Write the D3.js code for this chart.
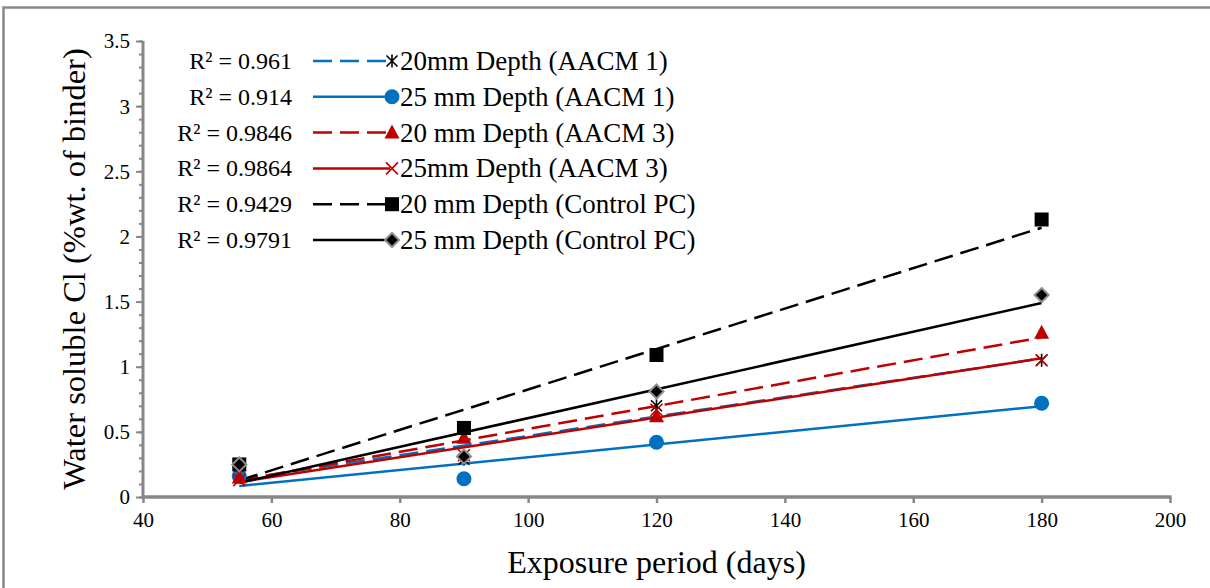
<!DOCTYPE html>
<html>
<head>
<meta charset="utf-8">
<script src="https://cdn.jsdelivr.net/npm/d3@7"></script>
<style>
  body { margin: 0; background: #fff; }
  svg { display: block; }
</style>
</head>
<body>
<svg id="chart" width="1210" height="588"></svg>
<script>
// Exposure period (days) at which samples were tested
const days = [55, 90, 120, 180];

// Water soluble chloride (% wt. of binder) per depth / mix
const aacm1Depth20 = [0.17, 0.29, 0.70, 1.05];
const aacm1Depth25 = [0.16, 0.14, 0.42, 0.72];
const aacm3Depth20 = [0.15, 0.455, 0.62, 1.26];
const aacm3Depth25 = [0.13, 0.32, 0.67, 1.05];
const pcDepth20 = [0.25, 0.53, 1.09, 2.13];
const pcDepth25 = [0.25, 0.31, 0.81, 1.55];

const seriesNames = [
  "20mm Depth (AACM 1)",
  "25 mm Depth (AACM 1)",
  "20 mm Depth (AACM 3)",
  "25mm Depth (AACM 3)",
  "20 mm Depth (Control PC)",
  "25 mm Depth (Control PC)"
];
const r2Labels = ["R² = 0.961", "R² = 0.914", "R² = 0.9846", "R² = 0.9864", "R² = 0.9429", "R² = 0.9791"];

const xTicks = [40, 60, 80, 100, 120, 140, 160, 180, 200];
const yTicks = [0, 0.5, 1, 1.5, 2, 2.5, 3, 3.5];

const seriesValues = [aacm1Depth20, aacm1Depth25, aacm3Depth20, aacm3Depth25, pcDepth20, pcDepth25];

// Line and marker styling per series
const blue = "#0070c0", red = "#c00000", black = "#000000";
const styles = [
  { color: blue, dash: "19,8", marker: "star" },
  { color: blue, dash: null, marker: "circle" },
  { color: red, dash: "19,8", marker: "triangle" },
  { color: red, dash: null, marker: "cross" },
  { color: black, dash: "19,8", marker: "square" },
  { color: black, dash: null, marker: "diamond" }
];

const FONT = '"Liberation Serif", "Times New Roman", Times, serif';

const svg = d3.select("#chart").style("font-family", FONT);

function styleText(sel, size) {
  return sel.style("font-family", FONT).style("font-size", size + "px").style("fill", "#000");
}

// outer chart frame
svg.append("rect")
  .attr("x", 3.5).attr("y", 7.5)
  .attr("width", 1300).attr("height", 700)
  .attr("fill", "none").attr("stroke", "#888").attr("stroke-width", 2.5);

const x = d3.scaleLinear().domain([40, 200]).range([143, 1170]);
const y = d3.scaleLinear().domain([0, 3.5]).range([497, 41]);

const axisColor = "#878787";

// y axis: minor ticks every 0.1, major every 0.5
const yMinor = d3.range(0, 36).map(i => i / 10);
const yAxisMinor = d3.axisLeft(y).tickValues(yMinor).tickSize(4).tickFormat("");
const yAxisMajor = d3.axisLeft(y).tickValues(yTicks).tickSize(7).tickPadding(6)
  .tickFormat(d => d3.format("")(d));

const gyMinor = svg.append("g").attr("transform", `translate(${x(40)},0)`).call(yAxisMinor);
const gy = svg.append("g").attr("transform", `translate(${x(40)},0)`).call(yAxisMajor);
[gyMinor, gy].forEach(g => {
  g.attr("font-family", null);
  g.select(".domain").remove();
  g.selectAll("line").attr("stroke", axisColor).attr("stroke-width", 2);
});
styleText(gy.selectAll("text"), 21).attr("dy", "0.33em");

svg.append("line")
  .attr("x1", x(40)).attr("x2", x(40))
  .attr("y1", y(0) + 1.5).attr("y2", y(3.5))
  .attr("stroke", axisColor).attr("stroke-width", 3);

// x axis
const xAxis = d3.axisBottom(x).tickValues(xTicks).tickSize(6).tickPadding(9);
const gx = svg.append("g").attr("transform", `translate(0,${y(0)})`).call(xAxis);
gx.attr("font-family", null);
gx.select(".domain").remove();
gx.selectAll("line").attr("stroke", axisColor).attr("stroke-width", 2.5);
styleText(gx.selectAll("text"), 21);

svg.append("line")
  .attr("x1", x(40) - 1.5).attr("x2", x(200) + 1.5)
  .attr("y1", y(0)).attr("y2", y(0))
  .attr("stroke", axisColor).attr("stroke-width", 3.5);

// axis titles
styleText(svg.append("text"), 32)
  .attr("x", (x(40) + x(200)) / 2).attr("y", 573)
  .attr("text-anchor", "middle")
  .text("Exposure period (days)");

styleText(svg.append("text"), 32.5)
  .attr("transform", `translate(85,${(y(0) + y(3.5)) / 2}) rotate(-90)`)
  .attr("text-anchor", "middle")
  .text("Water soluble Cl (%wt. of binder)");

// least-squares linear trend over the tested range
function linearFit(xs, ys) {
  const mx = d3.mean(xs), my = d3.mean(ys);
  let sxy = 0, sxx = 0;
  xs.forEach((xv, i) => { sxy += (xv - mx) * (ys[i] - my); sxx += (xv - mx) ** 2; });
  const slope = sxy / sxx;
  return xv => my + slope * (xv - mx);
}

const trendGroup = svg.append("g");
seriesValues.forEach((vals, i) => {
  const f = linearFit(days, vals);
  const ends = [d3.min(days), d3.max(days)];
  trendGroup.append("path")
    .attr("d", d3.line().x(d => x(d)).y(d => y(f(d)))(ends))
    .attr("fill", "none")
    .attr("stroke", styles[i].color)
    .attr("stroke-width", 2.5)
    .attr("stroke-dasharray", styles[i].dash);
});

// marker drawing
function drawMarker(g, type, cx, cy) {
  switch (type) {
    case "star": {
      const s = 5.5;
      g.append("path")
        .attr("d", `M${cx - s},${cy - s}L${cx + s},${cy + s}M${cx - s},${cy + s}L${cx + s},${cy - s}M${cx},${cy - s - 1}L${cx},${cy + s + 1}`)
        .attr("stroke", "#000").attr("stroke-width", 1.6).attr("fill", "none");
      break;
    }
    case "circle":
      g.append("circle").attr("cx", cx).attr("cy", cy).attr("r", 7.5).attr("fill", blue);
      break;
    case "triangle":
      g.append("path")
        .attr("d", `M${cx},${cy - 8}L${cx + 7.5},${cy + 6}L${cx - 7.5},${cy + 6}Z`)
        .attr("fill", red);
      break;
    case "cross": {
      const s = 6;
      g.append("path")
        .attr("d", `M${cx - s},${cy - s}L${cx + s},${cy + s}M${cx - s},${cy + s}L${cx + s},${cy - s}`)
        .attr("stroke", red).attr("stroke-width", 1.6).attr("fill", "none");
      break;
    }
    case "square":
      g.append("rect").attr("x", cx - 7).attr("y", cy - 7).attr("width", 14).attr("height", 14).attr("fill", "#000");
      break;
    case "diamond":
      g.append("path")
        .attr("d", `M${cx},${cy - 7}L${cx + 7},${cy}L${cx},${cy + 7}L${cx - 7},${cy}Z`)
        .attr("fill", "#000").attr("stroke", "#8c8c8c").attr("stroke-width", 2);
      break;
  }
}

const markerGroup = svg.append("g");
seriesValues.forEach((vals, i) => {
  vals.forEach((v, j) => drawMarker(markerGroup, styles[i].marker, x(days[j]), y(v)));
});

// legend with trendline R² values
const legend = svg.append("g");
const rowY = i => 61 + i * 35.8;
seriesNames.forEach((name, i) => {
  const yy = rowY(i);
  styleText(legend.append("text"), 24)
    .attr("x", 292).attr("y", yy).attr("dy", "0.33em")
    .attr("text-anchor", "end")
    .text(r2Labels[i]);
  legend.append("line")
    .attr("x1", 313).attr("x2", 390).attr("y1", yy).attr("y2", yy)
    .attr("stroke", styles[i].color).attr("stroke-width", 2.5)
    .attr("stroke-dasharray", styles[i].dash);
  drawMarker(legend, styles[i].marker, 392, yy);
  styleText(legend.append("text"), 27)
    .attr("x", 400).attr("y", yy).attr("dy", "0.33em")
    .text(name);
});
</script>
</body>
</html>
